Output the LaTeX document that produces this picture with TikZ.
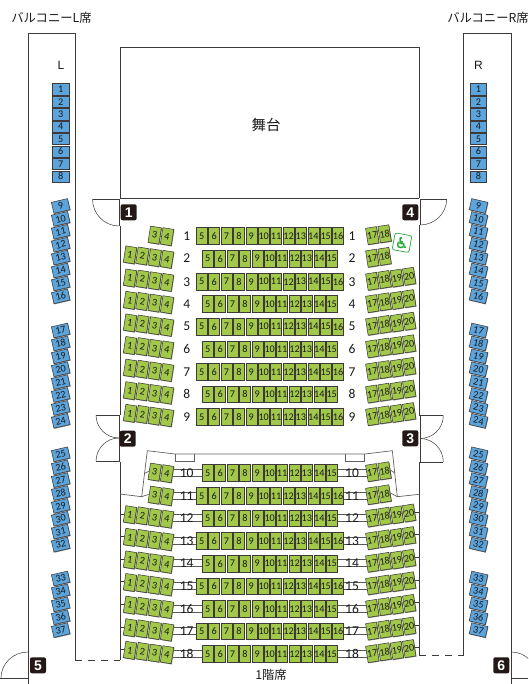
\documentclass[tikz,border=0pt]{standalone}
\usepackage{fontspec}
\setmainfont{Liberation Sans}
\newfontfamily\narrowfont{Carlito}
\newfontfamily\jpfont{Noto Sans CJK JP}
\newfontfamily\symfont[FakeBold=1.5]{DejaVu Sans}
\usetikzlibrary{backgrounds,shadows}
\definecolor{seatgreen}{HTML}{A2C84A}
\definecolor{seatblue}{HTML}{5CA4DC}
\definecolor{wallgray}{HTML}{3E3A39}
\definecolor{badgeblack}{HTML}{231815}
\definecolor{wheelgreen}{HTML}{22AC38}

\begin{document}
\begin{tikzpicture}[x=1pt,y=-1pt]
\tikzstyle{seatbox} = [draw=wallgray,line width=.55pt,inner sep=0pt,text=black!90,font=\narrowfont\fontsize{10.2}{10.2}\selectfont,drop shadow={shadow xshift=.6pt,shadow yshift=-.7pt,fill=black!50,opacity=1}]
\tikzstyle{greenseat} = [seatbox,fill=seatgreen,minimum width=11pt,minimum height=16.5pt]
\tikzstyle{blueseat} = [seatbox,fill=seatblue,minimum width=16.5pt,minimum height=11.3pt]
\tikzstyle{wall} = [draw=wallgray,line width=.9pt]
\tikzstyle{thinwall} = [draw=wallgray,line width=.5pt]
\tikzstyle{rail} = [draw=wallgray!80,line width=.7pt]
\tikzstyle{badge} = [fill=badgeblack,text=white,rounded corners=2pt,minimum size=16pt,inner sep=0pt,font=\fontsize{14}{14}\selectfont\bfseries]
\tikzstyle{rownum} = [inner sep=0pt,text=black!90,font=\narrowfont\fontsize{13.5}{13.5}\selectfont]
\tikzstyle{caption} = [inner sep=0pt,text=black!90,font=\jpfont\fontsize{12.3}{12.3}\selectfont]
\path[use as bounding box,clip] (0,0) rectangle (528,684);

\draw[wall] (120,198) -- (120,47.5) -- (419.3,47.5) -- (419.3,198);
\draw[wall] (120,198.5) -- (419.3,198.5);
\node[inner sep=0pt,text=black!90,font=\jpfont\fontsize{14.5}{14.5}\selectfont] (stagelabel) at (266,125) {舞台};

\draw[wall] (28,684) -- (28,33) -- (75.2,33) -- (75.2,660);
\draw[wall,dashed,dash pattern=on 7pt off 6pt] (75.2,660) -- (120,660);
\draw[wall] (511.3,684) -- (511.3,33) -- (463.8,33) -- (463.8,655.7);
\draw[wall,dashed,dash pattern=on 7pt off 6pt] (419.3,655.7) -- (463.8,655.7);
\node[caption] (balconyL) at (51.5,18) {バルコニーL席};
\node[caption] (balconyR) at (488,18) {バルコニーR席};
\node[rownum,font=\fontsize{12}{12}\selectfont] (markL) at (61,65) {L};
\node[rownum,font=\fontsize{12}{12}\selectfont] (markR) at (478.5,65) {R};
\node[caption] (floorlabel) at (271,675) {1階席};

\draw[wall] (120,226) -- (120,415);
\draw[wall] (120,461.5) -- (120,660);
\draw[wall] (419.3,225) -- (419.3,415.5);
\draw[wall] (419.3,462) -- (419.3,655.7);

\draw[thinwall] (119,199) -- (119,226) (92.5,199) -- (119,199);
\draw[thinwall] (92.5,199) to[out=-90,in=180] (119,226);
\draw[thinwall] (420,199) -- (420,225) (420,199) -- (446.7,199);
\draw[thinwall] (446.7,199) to[out=-90,in=0] (420,225);
\draw[thinwall] (119,415) -- (119,461.5) (96,415) -- (119,415) (96,461.5) -- (119,461.5);
\draw[thinwall] (96,415) to[out=-90,in=180] (119,438);
\draw[thinwall] (119,438) to[out=180,in=90] (96,461.5);
\draw[thinwall] (420,415.5) -- (420,462) (420,415.5) -- (443.3,415.5) (420,462) -- (443.3,462);
\draw[thinwall] (443.3,415.5) to[out=-90,in=0] (420,438.5);
\draw[thinwall] (420,438.5) to[out=0,in=90] (443.3,462);
\draw[thinwall] (0,678) -- (28,678);
\draw[thinwall] (28,652) to[out=180,in=90] (1,678);
\draw[thinwall] (511.3,678) -- (528,678);
\draw[thinwall] (511.3,652) to[out=0,in=90] (537,678);

\draw[rail] (120,494) -- (141.7,496.7) -- (147.3,450.7) -- (175,454) -- (365,454) -- (392.3,450.7) -- (397.3,496.7) -- (419.3,494.3);
\draw[rail] (175.3,454) -- (175.3,461.3) -- (194.3,461.3) -- (194.3,454);
\draw[rail] (345,454) -- (345,461.3) -- (364.3,461.3) -- (364.3,454);

\node[badge] (door1) at (128.7,212.3) {1};
\node[badge] (door2) at (127.7,438.7) {2};
\node[badge] (door3) at (410.3,438.3) {3};
\node[badge] (door4) at (410.3,212.3) {4};
\node[badge] (door5) at (38,665.3) {5};
\node[badge] (door6) at (501.3,665.3) {6};

\node[draw=wheelgreen,fill=white,line width=.7pt,rounded corners=2pt,minimum size=17pt,inner sep=0pt,rotate=-10,text=wheelgreen,font=\symfont\fontsize{15.5}{15.5}\selectfont] (wheelchair) at (402,242.7) {♿};

\foreach \row/\rowy/\last/\first/\end in {
    1/236/16/3/18, 2/258.6/15/1/18, 3/281.7/16/1/20, 4/304/15/1/20, 5/326.6/16/1/20,
    6/349.2/15/1/20, 7/371.8/16/1/20, 8/394.4/15/1/20, 9/417/16/1/20,
    10/473/15/3/18, 11/496/16/3/18, 12/518.4/15/1/20, 13/541/16/1/20, 14/563.6/15/1/20,
    15/586.2/16/1/20, 16/608.8/15/1/20, 17/631.4/16/1/20, 18/654/15/1/20} {
    \pgfmathsetmacro{\startx}{\last==16 ? 201.7 : 207.7}
    \foreach \seat in {5,...,\last} {
        \node[greenseat] (s\row-\seat) at ({\startx+(\seat-5)*12.4},\rowy) {\seat};
    }
    \foreach \seat in {\first,...,4} {
        \pgfmathsetmacro{\dy}{{-3.7,-2.6,-.9,.7}[\seat-1]}
        \node[greenseat,rotate=-9] (s\row-\seat) at ({130+(\seat-1)*12.35},{\rowy+\dy}) {\seat};
    }
    \foreach \seat in {17,...,\end} {
        \pgfmathsetmacro{\dy}{{-.4,-2.2,-3.6,-5.4}[\seat-17]}
        \node[greenseat,rotate=9] (s\row-\seat) at ({372.3+(\seat-17)*12.3},{\rowy+\dy}) {\seat};
    }
    \node[rownum] (row\row L) at (186.7,\rowy) {\row};
    \node[rownum] (row\row R) at (352,\rowy) {\row};
}

\foreach \row/\last in {10/15,11/16,12/15,13/16,14/15,15/16,16/15,17/16,18/15} {
    \begin{scope}[on background layer]
        \foreach \off in {-3,4} {
            \draw[draw=black!65,line width=.6pt] ([yshift=\off pt]row\row L.center -| s\row-4.center) -- ([yshift=\off pt]row\row L.center -| s\row-5.center);
            \draw[draw=black!65,line width=.6pt] ([yshift=\off pt]row\row R.center -| s\row-\last.center) -- ([yshift=\off pt]row\row R.center -| s\row-17.center);
        }
    \end{scope}
}
\draw[rail] (144.2,473.5) -- (s10-3.west);
\draw[rail] (395,473.3) -- (s10-18.east);
\draw[rail] (141.7,496.7) -- (s11-3.west);
\draw[rail] (397.3,496.7) -- (s11-18.east);
\foreach \row in {12,...,18} {
    \draw[thinwall] (s\row-1.west) -- (s\row-1.west -| door2.west);
    \draw[thinwall] (s\row-20.east) -- (s\row-20.east -| door3.east);
}

\foreach \side/\colx in {L/60.7,R/478.5} {
    \pgfmathsetmacro{\tilt}{\colx<100 ? 13 : -13}
    \foreach \seat in {1,...,8} {
        \node[blueseat] (b\side-\seat) at (\colx,{89.3+(\seat-1)*12.45}) {\seat};
    }
    \foreach \seat in {9,...,16} {
        \node[blueseat,rotate=\tilt] (b\side-\seat) at (\colx,{206+(\seat-9)*12.9}) {\seat};
    }
    \foreach \seat in {17,...,24} {
        \node[blueseat,rotate=\tilt] (b\side-\seat) at (\colx,{330.5+(\seat-17)*12.9}) {\seat};
    }
    \foreach \seat in {25,...,32} {
        \node[blueseat,rotate=\tilt] (b\side-\seat) at (\colx,{454.3+(\seat-25)*12.9}) {\seat};
    }
    \foreach \seat in {33,...,37} {
        \node[blueseat,rotate=\tilt] (b\side-\seat) at (\colx,{578.5+(\seat-33)*12.9}) {\seat};
    }
}
\end{tikzpicture}
\end{document}
